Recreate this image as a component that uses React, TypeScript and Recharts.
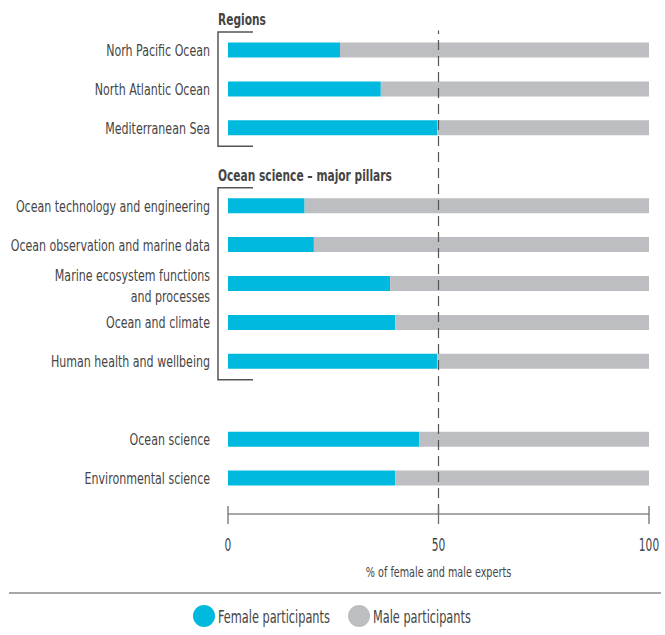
import React from 'react';
import { BarChart, Bar, XAxis, YAxis, ReferenceLine, ReferenceArea, Legend } from 'recharts';

const FONT = "'DejaVu Sans Condensed', 'DejaVu Sans', sans-serif";

const categories = [
  'Norh Pacific Ocean',
  'North Atlantic Ocean',
  'Mediterranean Sea',
  '__pillars',
  'Ocean technology and engineering',
  'Ocean observation and marine data',
  'Marine ecosystem functions\nand processes',
  'Ocean and climate',
  'Human health and wellbeing',
  '__gap',
  'Ocean science',
  'Environmental science',
];
const femaleShare: (number | null)[] = [26.6, 36.3, 49.7, null, 18.2, 20.4, 38.5, 39.7, 49.7, null, 45.4, 39.7];
const maleShare: (number | null)[] = [73.4, 63.7, 50.3, null, 81.8, 79.6, 61.5, 60.3, 50.3, null, 54.6, 60.3];
const xTicks = [0, 50, 100];
const groups = [
  { title: 'Regions', from: 'Norh Pacific Ocean', to: 'Mediterranean Sea' },
  { title: 'Ocean science – major pillars', from: 'Ocean technology and engineering', to: 'Human health and wellbeing' },
];

const data = categories.map((name, i) => ({ name, female: femaleShare[i], male: maleShare[i] }));

const TEXT = '#454545';
const BLUE = '#00b9df';
const GREY = '#bdbec1';

// Condensed text: a real text element narrowed horizontally
const CText = ({ x, y, sx = 0.75, size, anchor = 'start', weight = 'normal', fill = TEXT, children }: any) => (
  <text
    transform={`translate(${x},${y}) scale(${sx},1)`}
    x={0}
    y={0}
    textAnchor={anchor}
    fontSize={size}
    fontWeight={weight}
    fontFamily={FONT}
    fill={fill}
  >
    {children}
  </text>
);

const YTick = (props: any) => {
  const { x, y, payload } = props;
  const v: string = payload.value;
  if (v.startsWith('__')) return null;
  const lines = v.split('\n');
  if (lines.length === 1) {
    return (
      <CText x={x} y={y + 6} sx={0.745} size={16.5} anchor="end">
        {v}
      </CText>
    );
  }
  return (
    <g>
      {lines.map((l, i) => (
        <CText key={i} x={x} y={y - 2 + i * 21} sx={0.745} size={16.5} anchor="end">
          {l}
        </CText>
      ))}
    </g>
  );
};

const XTick = (props: any) => {
  const { x, y, payload } = props;
  return (
    <g>
      <line x1={x} x2={x} y1={y - 8} y2={y + 10} stroke="#6f6f6f" strokeWidth={1.3} />
      <CText x={x} y={y + 37} sx={0.68} size={17.4} anchor="middle">
        {payload.value}
      </CText>
    </g>
  );
};

const AxisLabel = (props: any) => {
  const { viewBox } = props;
  const cx = viewBox.x + viewBox.width / 2;
  return (
    <CText x={cx} y={viewBox.y + 63} sx={0.766} size={14} anchor="middle">
      % of female and male experts
    </CText>
  );
};

const makeBracket = (title: string) => (props: any) => {
  const { x, y, height } = props;
  const bx = x - 10;
  return (
    <g>
      <path
        d={`M${bx + 35},${y + 1.5} H${bx} V${y + height - 1} H${bx + 35}`}
        fill="none"
        stroke="#555"
        strokeWidth={1.5}
      />
      <CText x={bx} y={y - 5.5} sx={0.74} size={16} weight="bold" fill="#454545">
        {title}
      </CText>
    </g>
  );
};

const legendCircleX = [204, 359];

const LegendContent = (props: any) => {
  const { payload = [] } = props;
  return (
    <svg width={665} height={46} style={{ display: 'block' }}>
      <line x1={9} x2={661} y1={4} y2={4} stroke="#8a8a8a" strokeWidth={1.5} />
      {payload.map((p: any, i: number) => (
        <g key={p.value}>
          <circle cx={legendCircleX[i]} cy={27} r={11} fill={p.color} />
          <CText x={legendCircleX[i] + 14} y={33.5} sx={0.72} size={17.5} fill="#444">
            {p.value}
          </CText>
        </g>
      ))}
    </svg>
  );
};

export default function App() {
  return (
    <div style={{ position: 'absolute', left: 0, top: 0, width: 665, height: 635, background: '#fff' }}>
      <BarChart
        width={665}
        height={635}
        data={data}
        layout="vertical"
        margin={{ top: 30.5, right: 16, bottom: 0, left: 0 }}
        style={{ fontFamily: FONT }}
      >
        <XAxis
          type="number"
          domain={[0, 100]}
          ticks={xTicks}
          axisLine={{ stroke: '#555', strokeWidth: 1.2 }}
          tickLine={false}
          tickSize={0}
          tickMargin={0}
          tick={<XTick />}
          height={75}
          label={<AxisLabel />}
        />
        <YAxis
          type="category"
          dataKey="name"
          width={228}
          axisLine={false}
          tickLine={false}
          tickSize={0}
          tickMargin={18}
          interval={0}
          tick={<YTick />}
          padding={{ top: 0, bottom: 16.5 }}
        />
        {groups.map((g) => (
          <ReferenceArea key={g.title} y1={g.from} y2={g.to} x1={0} x2={100} shape={makeBracket(g.title)} ifOverflow="visible" />
        ))}
        <Bar dataKey="female" name="Female participants" stackId="a" fill={BLUE} barSize={15} isAnimationActive={false} />
        <Bar dataKey="male" name="Male participants" stackId="a" fill={GREY} barSize={15} isAnimationActive={false} />
        <ReferenceLine x={50} stroke="#555" strokeWidth={1.2} strokeDasharray="10 6" ifOverflow="visible" />
        <Legend
          verticalAlign="bottom"
          content={<LegendContent />}
          wrapperStyle={{ left: 0, width: 665, bottom: 0 }}
        />
      </BarChart>
    </div>
  );
}
